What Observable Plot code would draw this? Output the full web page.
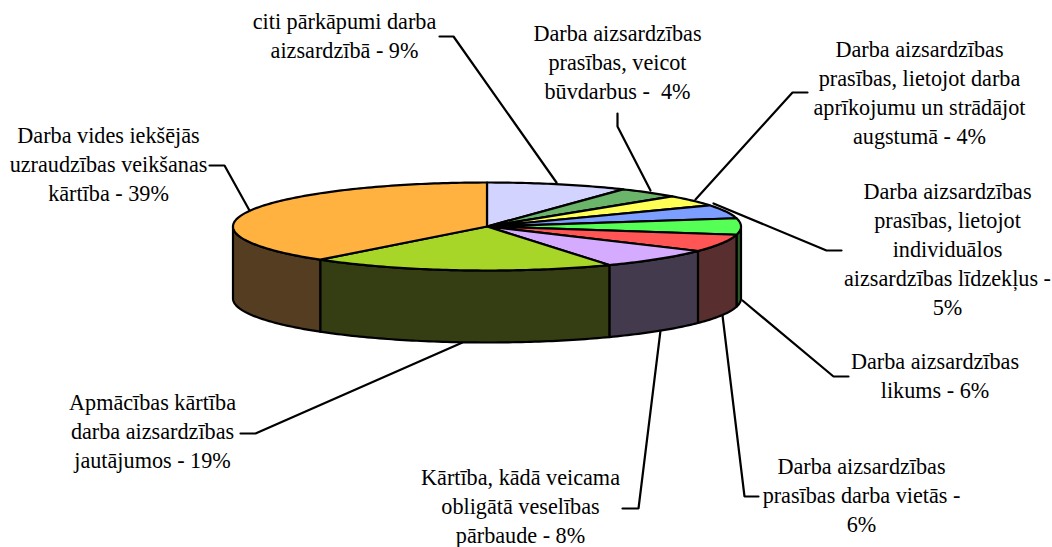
<!DOCTYPE html>
<html><head><meta charset="utf-8">
<script src="https://cdn.jsdelivr.net/npm/d3@7"></script>
<script src="https://cdn.jsdelivr.net/npm/@observablehq/plot@0.6"></script>
<style>html,body{margin:0;padding:0;background:#fff}svg{display:block}</style>
</head><body><div id="chart"></div>
<script>
const categories = [
  "citi pārkāpumi darba\naizsardzībā - 9%",
  "Darba aizsardzības\nprasības, veicot\nbūvdarbus -  4%",
  "Darba aizsardzības\nprasības, lietojot darba\naprīkojumu un strādājot\naugstumā - 4%",
  "Darba aizsardzības\nprasības, lietojot\nindividuālos\naizsardzības līdzekļus -\n5%",
  "Darba aizsardzības\nlikums - 6%",
  "Darba aizsardzības\nprasības darba vietās -\n6%",
  "Kārtība, kādā veicama\nobligātā veselības\npārbaude - 8%",
  "Apmācības kārtība\ndarba aizsardzības\njautājumos - 19%",
  "Darba vides iekšējās\nuzraudzības veikšanas\nkārtība - 39%"
];
// slice sizes (they round to the printed percentages)
const values = [9, 4, 4, 5, 6, 6.4, 7.6, 19.4, 38.6];
const topColors = ["#d3d3ff","#6ab56a","#ffff55","#7b9eff","#55ff55","#ff5555","#d5abff","#a8d628","#ffb240"];
const wallColors = ["#5f5f73","#305230","#737326","#384773","#2a5c2a","#582e2e","#443a4e","#353d12","#543d20"];

// layout (pixels of the picture)
const pie = {cx: 486.5, cy: 226, rx: 254, ry: 44, depth: 72};
const labelX = [344, 617, 919, 947, 934.5, 861, 520, 152, 108];
const labelY = [33.5, 60, 91, 247, 373.5, 493, 504, 429, 162];
const leaders = [
  [[439,36],[453,36],[556,182]],
  [[617,113],[617,126],[650,190]],
  [[807,92],[792,92],[695,199]],
  [[841,250],[826,250],[713,203]],
  [[848,376],[833,376],[742,300]],
  [[758,496],[744,496],[722,315]],
  [[622,508],[638,508],[660,330]],
  [[240,433],[255,433],[462,342]],
  [[209,165],[224,165],[249,210]]
];

const rad = d => d * Math.PI / 180;
const px = (deg) => pie.cx + pie.rx * Math.sin(rad(deg));
const py = (deg, drop = 0) => pie.cy - pie.ry * Math.cos(rad(deg)) + drop;
const arc = (a, b, drop = 0) => {
  const n = Math.max(2, Math.ceil(Math.abs(b - a)));
  return d3.range(n + 1).map(i => { const t = a + (b - a) * i / n; return [px(t), py(t, drop)]; });
};

const total = d3.sum(values);
let cum = 0;
const slices = values.map((v, i) => {
  const a = cum / total * 360; cum += v; const b = cum / total * 360;
  return {i, a, b};
});

const line = (pts, o) => Plot.line(pts, {x: d => d[0], y: d => d[1], curve: "linear", stroke: "#000", strokeWidth: 2.2, strokeLinejoin: "round", ...o});

const marks = [];
leaders.forEach(l => marks.push(line(l, {strokeLinejoin: "miter"})));
slices.forEach(s => {
  const a = Math.max(s.a, 90), b = Math.min(s.b, 270);
  if (b <= a) return;
  const poly = [...arc(a, b), ...arc(b, a, pie.depth)];
  poly.push(poly[0]);
  marks.push(line(poly, {fill: wallColors[s.i]}));
});
slices.forEach(s => {
  const poly = [[pie.cx, pie.cy], ...arc(s.a, s.b), [pie.cx, pie.cy]];
  marks.push(line(poly, {fill: topColors[s.i]}));
});
const labels = categories.map((t, i) => ({t, x: labelX[i], y: labelY[i]}));
marks.push(Plot.text(labels, {
  x: "x", y: "y", text: "t", textAnchor: "middle", lineAnchor: "middle",
  lineHeight: 1.31, fontSize: 22.2, fontFamily: "Liberation Serif", fill: "#000"
}));

const chart = Plot.plot({
  width: 1052, height: 547, margin: 0,
  style: {background: "#fff", fontFamily: "Liberation Serif"},
  x: {domain: [0, 1052], range: [0, 1052], axis: null},
  y: {domain: [0, 547], range: [0, 547], axis: null},
  marks
});
document.getElementById("chart").appendChild(chart);
</script>
</body></html>
